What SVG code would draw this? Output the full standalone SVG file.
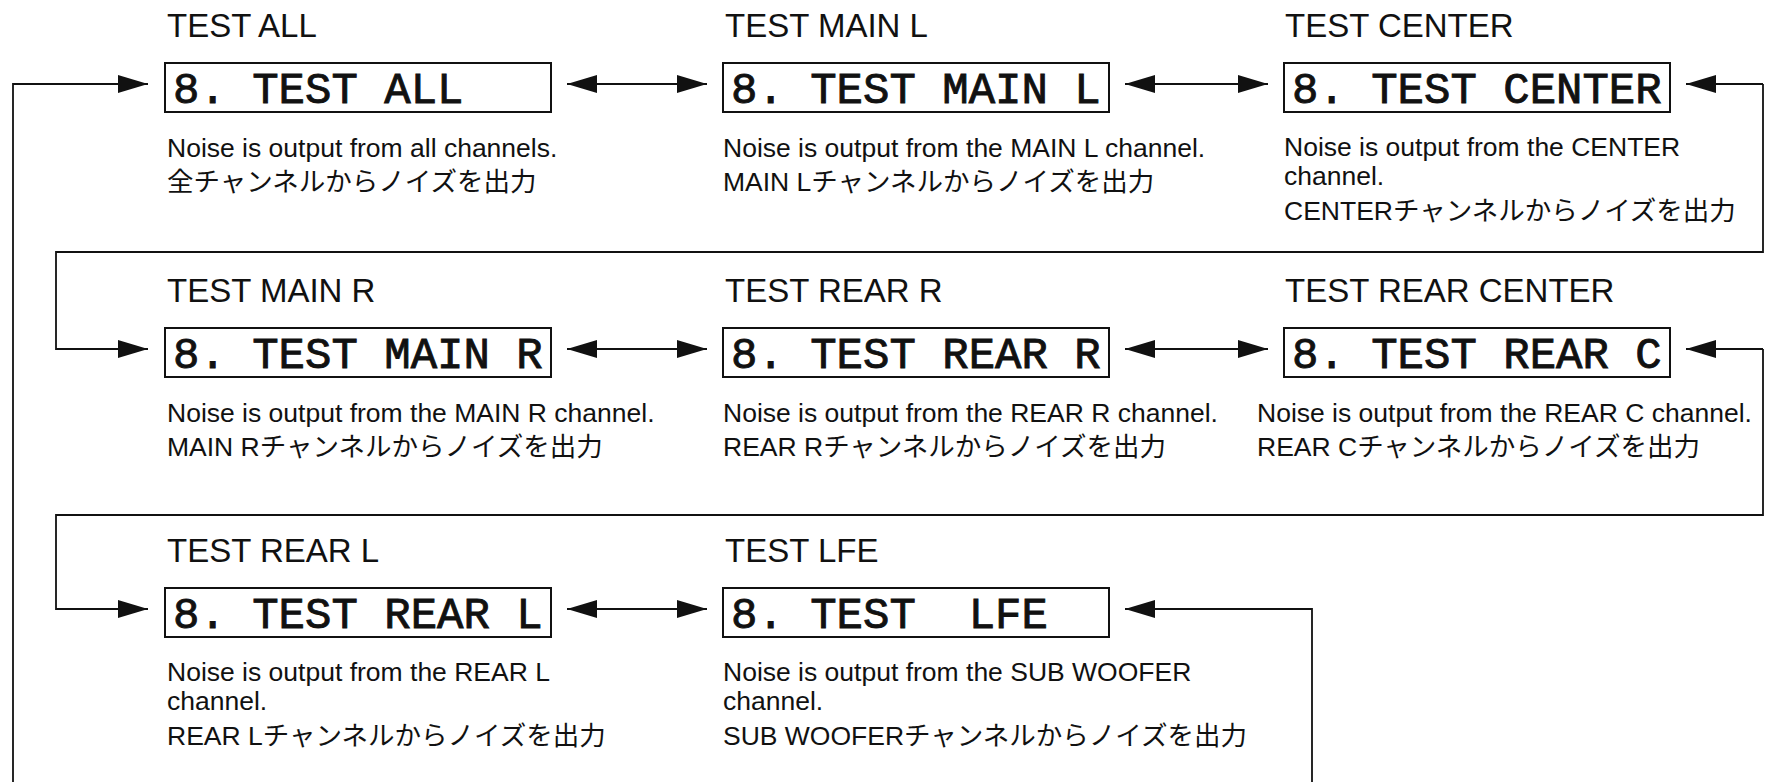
<svg xmlns="http://www.w3.org/2000/svg" width="1765" height="782" viewBox="0 0 1765 782">
<style>
.t{font-family:"Liberation Sans",Arial,sans-serif;font-size:33px;fill:#111}
.d{font-family:"Liberation Sans","Noto Sans CJK JP",sans-serif;font-size:26.5px;fill:#111}
.lcd{font-family:"Liberation Mono","DejaVu Sans Mono",monospace;font-size:44px;fill:#111;stroke:#111;stroke-width:0.9;white-space:pre}
.box{fill:#fff;stroke:#111;stroke-width:2}
.c{fill:none;stroke:#111;stroke-width:1.8}
</style>
<defs>
<marker id="ah" viewBox="0 0 30 18" refX="30" refY="9" markerWidth="30" markerHeight="18" markerUnits="userSpaceOnUse" orient="auto-start-reverse">
<path d="M0,0 L30,9 L0,18 z" fill="#111"/>
</marker>
</defs>
<rect width="1765" height="782" fill="#fff"/>
<g id="connectors">
<path class="c" d="M13,782 V84 H148" marker-end="url(#ah)"/>
<path class="c" d="M567,84 H707" marker-start="url(#ah)" marker-end="url(#ah)"/>
<path class="c" d="M1125,84 H1268" marker-start="url(#ah)" marker-end="url(#ah)"/>
<path class="c" d="M1763,84 H1686" marker-end="url(#ah)"/>
<path class="c" d="M1763,84 V252 H56 V349 H148" marker-end="url(#ah)"/>
<path class="c" d="M567,349 H707" marker-start="url(#ah)" marker-end="url(#ah)"/>
<path class="c" d="M1125,349 H1268" marker-start="url(#ah)" marker-end="url(#ah)"/>
<path class="c" d="M1763,349 H1686" marker-end="url(#ah)"/>
<path class="c" d="M1763,349 V515 H56 V609 H148" marker-end="url(#ah)"/>
<path class="c" d="M567,609 H707" marker-start="url(#ah)" marker-end="url(#ah)"/>
<path class="c" d="M1312,782 V609 H1125" marker-end="url(#ah)"/>
</g>
<g id="test-all">
<text class="t" x="167" y="37">TEST ALL</text>
<rect class="box" x="165" y="63" width="386" height="49"/>
<text class="lcd" x="173" y="103" xml:space="preserve">8. TEST ALL</text>
<text class="d" x="167" y="157">Noise is output from all channels.</text>
<text class="d" x="167" y="191">全チャンネルからノイズを出力</text>
</g>
<g id="test-main-l">
<text class="t" x="725" y="37">TEST MAIN L</text>
<rect class="box" x="723" y="63" width="386" height="49"/>
<text class="lcd" x="731" y="103" xml:space="preserve">8. TEST MAIN L</text>
<text class="d" x="723" y="157">Noise is output from the MAIN L channel.</text>
<text class="d" x="723" y="191">MAIN Lチャンネルからノイズを出力</text>
</g>
<g id="test-center">
<text class="t" x="1285" y="37">TEST CENTER</text>
<rect class="box" x="1284" y="63" width="386" height="49"/>
<text class="lcd" x="1292" y="103" xml:space="preserve">8. TEST CENTER</text>
<text class="d" x="1284" y="156">Noise is output from the CENTER</text>
<text class="d" x="1284" y="185">channel.</text>
<text class="d" x="1284" y="220">CENTERチャンネルからノイズを出力</text>
</g>
<g id="test-main-r">
<text class="t" x="167" y="302">TEST MAIN R</text>
<rect class="box" x="165" y="328" width="386" height="49"/>
<text class="lcd" x="173" y="368" xml:space="preserve">8. TEST MAIN R</text>
<text class="d" x="167" y="422">Noise is output from the MAIN R channel.</text>
<text class="d" x="167" y="456">MAIN Rチャンネルからノイズを出力</text>
</g>
<g id="test-rear-r">
<text class="t" x="725" y="302">TEST REAR R</text>
<rect class="box" x="723" y="328" width="386" height="49"/>
<text class="lcd" x="731" y="368" xml:space="preserve">8. TEST REAR R</text>
<text class="d" x="723" y="422">Noise is output from the REAR R channel.</text>
<text class="d" x="723" y="456">REAR Rチャンネルからノイズを出力</text>
</g>
<g id="test-rear-center">
<text class="t" x="1285" y="302">TEST REAR CENTER</text>
<rect class="box" x="1284" y="328" width="386" height="49"/>
<text class="lcd" x="1292" y="368" xml:space="preserve">8. TEST REAR C</text>
<text class="d" x="1257" y="422">Noise is output from the REAR C channel.</text>
<text class="d" x="1257" y="456">REAR Cチャンネルからノイズを出力</text>
</g>
<g id="test-rear-l">
<text class="t" x="167" y="562">TEST REAR L</text>
<rect class="box" x="165" y="588" width="386" height="49"/>
<text class="lcd" x="173" y="628" xml:space="preserve">8. TEST REAR L</text>
<text class="d" x="167" y="681">Noise is output from the REAR L</text>
<text class="d" x="167" y="710">channel.</text>
<text class="d" x="167" y="745">REAR Lチャンネルからノイズを出力</text>
</g>
<g id="test-lfe">
<text class="t" x="725" y="562">TEST LFE</text>
<rect class="box" x="723" y="588" width="386" height="49"/>
<text class="lcd" x="731" y="628" xml:space="preserve">8. TEST  LFE</text>
<text class="d" x="723" y="681">Noise is output from the SUB WOOFER</text>
<text class="d" x="723" y="710">channel.</text>
<text class="d" x="723" y="745">SUB WOOFERチャンネルからノイズを出力</text>
</g>
</svg>
